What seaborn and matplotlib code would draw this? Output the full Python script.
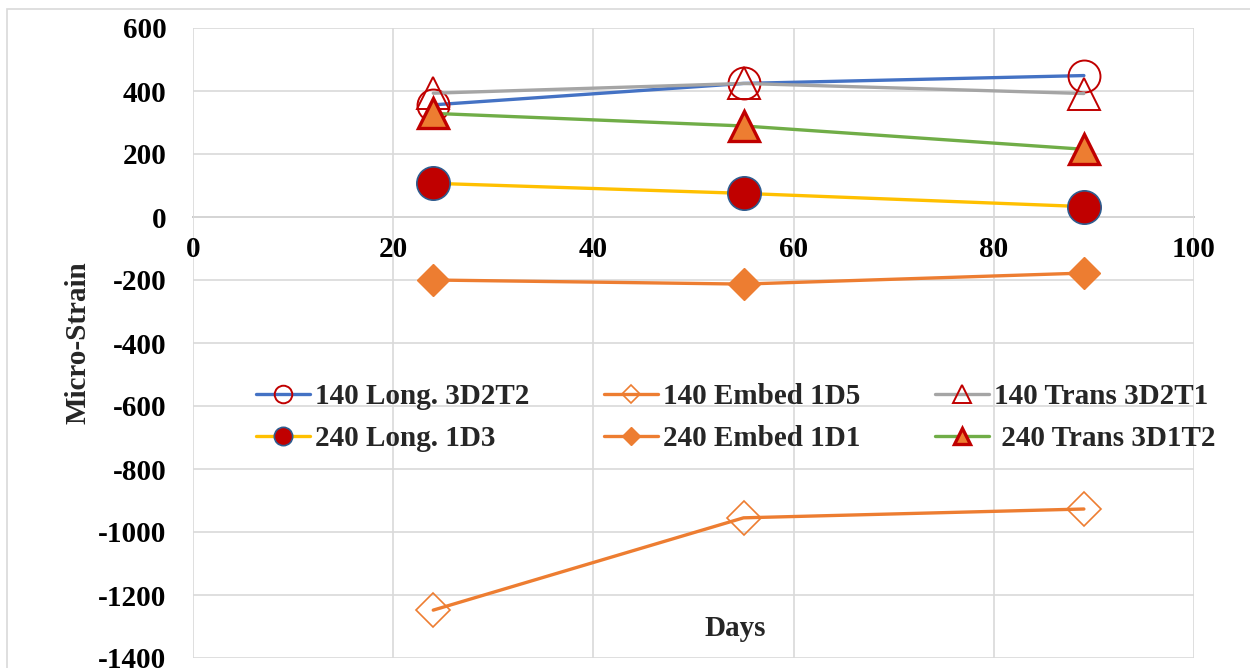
import matplotlib
matplotlib.use("Agg")
import matplotlib.pyplot as plt
from matplotlib.patches import Rectangle
import seaborn as sns

# Measurement days
days = [24, 55, 89]

# Micro-strain readings per gauge
long_140 = [356, 424, 449]
embed_140 = [-1248, -955, -927]
trans_140 = [393, 424, 392]
long_240 = [107, 75, 33]
embed_240 = [-200, -213, -178]
trans_240 = [329, 289, 215]

labels = ["140 Long. 3D2T2", "140 Embed 1D5", "140 Trans 3D2T1",
          "240 Long. 1D3", "240 Embed 1D1", " 240 Trans 3D1T2"]

x_ticks = [0, 20, 40, 60, 80, 100]
y_ticks = [-1400, -1200, -1000, -800, -600, -400, -200, 0, 200, 400, 600]

sns.set_theme(style="white")
plt.rcParams["font.family"] = ["Liberation Serif", "DejaVu Serif"]
plt.rcParams["font.weight"] = "bold"
plt.rcParams["axes.unicode_minus"] = False

W, H = 1250, 668
fig = plt.figure(figsize=(W / 100, H / 100), dpi=100)
fig.patch.set_facecolor("white")
ax = fig.add_axes([193 / W, 1 - 658 / H, 1001 / W, 630 / H])

# outer chart border
fig.add_artist(Rectangle((7 / W, -0.2), 1.2, 1 - 9 / H + 0.2,
                         transform=fig.transFigure, fill=False,
                         edgecolor="#D9D9D9", linewidth=1.2, zorder=0))

LW = 2.4
RED = "#C00000"
ORANGE = "#ED7D31"

series = [
    dict(y=long_140, color="#4472C4", marker="o", markersize=23,
         markerfacecolor="none", markeredgecolor=RED, markeredgewidth=1.4),
    dict(y=embed_140, color=ORANGE, marker="D", markersize=17,
         markerfacecolor="none", markeredgecolor=ORANGE, markeredgewidth=1.2),
    dict(y=trans_140, color="#A5A5A5", marker="^", markersize=23,
         markerfacecolor="none", markeredgecolor=RED, markeredgewidth=1.4),
    dict(y=long_240, color="#FFC000", marker="o", markersize=24,
         markerfacecolor=RED, markeredgecolor="#2E5C8F", markeredgewidth=1.2),
    dict(y=embed_240, color=ORANGE, marker="D", markersize=16,
         markerfacecolor=ORANGE, markeredgecolor=ORANGE, markeredgewidth=1.0),
    dict(y=trans_240, color="#70AD47", marker="^", markersize=22,
         markerfacecolor=ORANGE, markeredgecolor=RED, markeredgewidth=2.4),
]

for s, lab in zip(series, labels):
    y = s.pop("y")
    sns.lineplot(x=days, y=y, ax=ax, linewidth=LW, label=lab,
                 clip_on=False, **s)

ax.set_xlim(0, 100)
ax.set_ylim(-1400, 600)
ax.set_xticks(x_ticks)
ax.set_yticks(y_ticks)
ax.grid(True, color="#D9D9D9", linewidth=1.2)
ax.set_axisbelow(True)
for side in ["top", "right", "left"]:
    ax.spines[side].set_visible(False)
ax.spines["bottom"].set_position(("data", 0))
ax.spines["bottom"].set_color("#BFBFBF")
ax.spines["bottom"].set_linewidth(1.3)
ax.spines["bottom"].set_zorder(0.5)

ax.tick_params(axis="both", length=0, labelsize=21, colors="black")
ax.tick_params(axis="y", pad=19)
ax.tick_params(axis="x", pad=14)
for t in ax.get_xticklabels() + ax.get_yticklabels():
    t.set_fontweight("bold")

ax.set_xlabel("Days", fontsize=21, fontweight="bold")
ax.xaxis.label.set_va("center")
ax.xaxis.set_label_coords((735 - 193) / 1001, (658 - 628) / 630)
ax.set_ylabel("Micro-Strain", fontsize=21, fontweight="bold")
ax.yaxis.label.set_va("center")
ax.yaxis.set_label_coords((78 - 193) / 1001, (658 - 343) / 630)

handles, labs = ax.get_legend_handles_labels()
order = [0, 3, 1, 4, 2, 5]
ax.legend([handles[i] for i in order], [labs[i] for i in order],
          ncol=3, loc="upper left", bbox_to_anchor=((256 - 193) / 1001, (658 - 383) / 630),
          frameon=False, borderpad=0, borderaxespad=0,
          handlelength=1.86, handletextpad=0.17, columnspacing=2.55,
          labelspacing=0.52, markerscale=0.55,
          prop={"weight": "bold", "size": 21})

fig.savefig("out.png", dpi=100)
